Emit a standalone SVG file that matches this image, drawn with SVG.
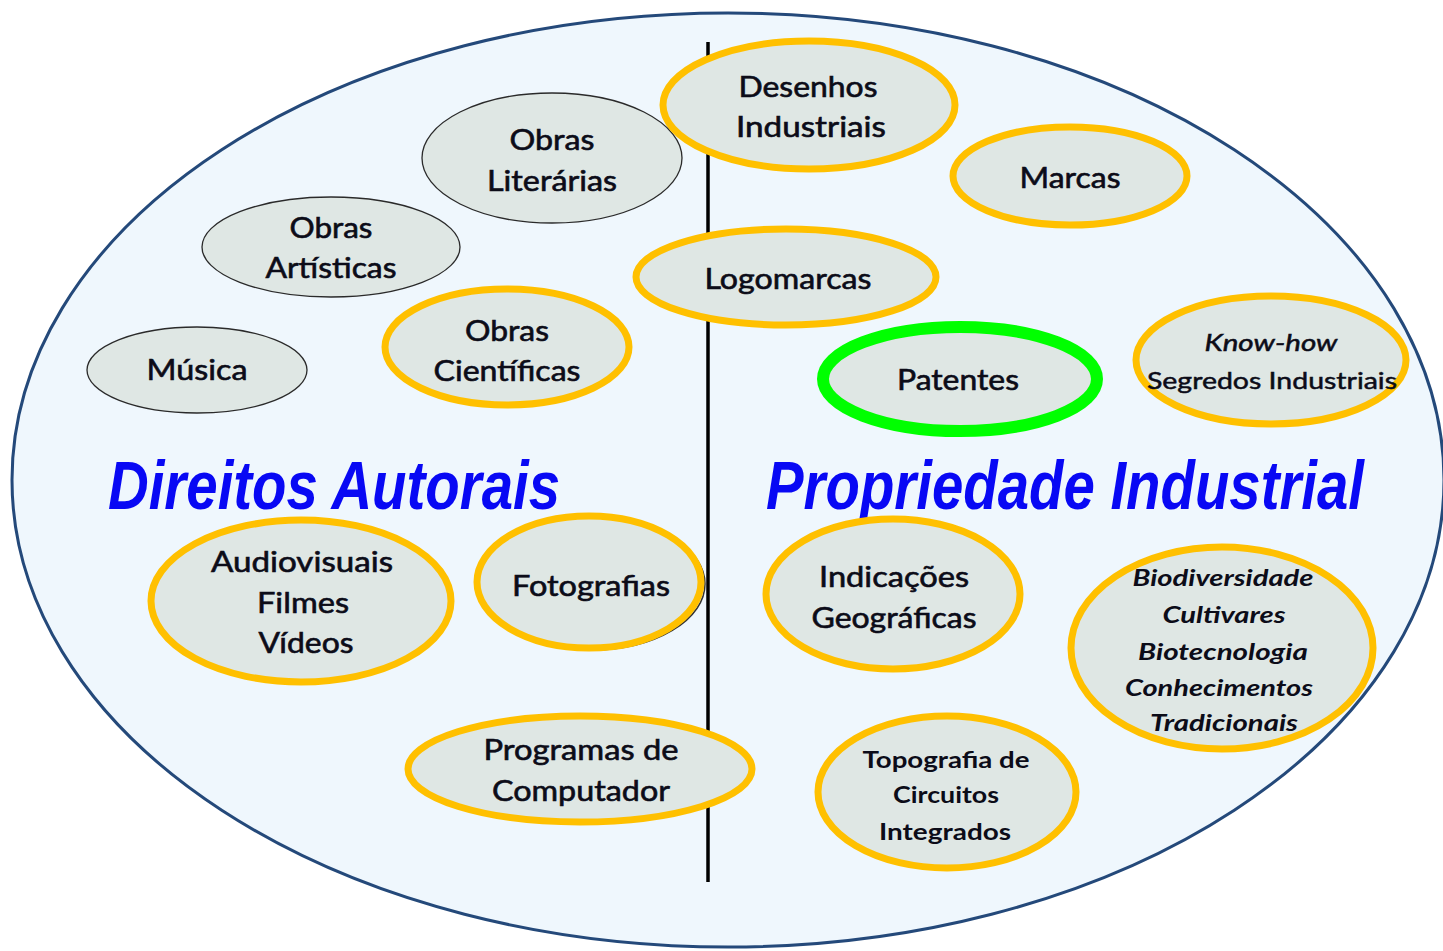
<svg xmlns="http://www.w3.org/2000/svg" width="1443" height="951" viewBox="0 0 1443 951">
<style>
.bg{fill:#EFF7FD;stroke:#24497A;stroke-width:3}
.n{fill:#DFE7E4}
.g{stroke:#2a2a2a;stroke-width:1.3}
.o{stroke:#FFC000;stroke-width:7}
.p{stroke:#00FF00;stroke-width:12}
.sh{fill:#DFE7E4;stroke:#333;stroke-width:1.5}
text{font-family:Lato,"Open Sans","Liberation Sans",sans-serif;fill:#0c0c18;text-anchor:middle}
.t{font-size:28px;stroke:#0c0c18;stroke-width:0.6}
.s{font-size:24px;stroke:#0c0c18;stroke-width:0.5}
.bi{font-size:23px;font-weight:bold;font-style:italic}
.b{font-size:22px;font-weight:bold}
.h{font-family:"Liberation Sans",Arial,sans-serif;font-size:68px;font-weight:bold;font-style:italic;fill:#0808F4;text-anchor:start}
</style>
<ellipse class="bg" cx="728" cy="480" rx="716" ry="467"/>
<g id="connectors">
<line x1="708" y1="42" x2="708" y2="882" stroke="#000" stroke-width="3.5"/>
</g>
<g id="obras-literarias">
<ellipse class="n g" cx="552" cy="158" rx="130" ry="65"/>
<text class="t" x="552" y="150" textLength="85" lengthAdjust="spacingAndGlyphs">Obras</text>
<text class="t" x="552" y="191" textLength="130" lengthAdjust="spacingAndGlyphs">Literárias</text>
</g>
<g id="obras-artisticas">
<ellipse class="n g" cx="331" cy="247" rx="129" ry="50"/>
<text class="t" x="331" y="238" textLength="83" lengthAdjust="spacingAndGlyphs">Obras</text>
<text class="t" x="331" y="278" textLength="131" lengthAdjust="spacingAndGlyphs">Artísticas</text>
</g>
<g id="musica">
<ellipse class="n g" cx="197" cy="370" rx="110" ry="43"/>
<text class="t" x="197" y="380" textLength="101" lengthAdjust="spacingAndGlyphs">Música</text>
</g>
<g id="obras-cientificas">
<ellipse class="n o" cx="507" cy="347" rx="122" ry="58"/>
<text class="t" x="507" y="341" textLength="84" lengthAdjust="spacingAndGlyphs">Obras</text>
<text class="t" x="507" y="381" textLength="147" lengthAdjust="spacingAndGlyphs">Científicas</text>
</g>
<g id="desenhos-industriais">
<ellipse class="n o" cx="809" cy="105" rx="146" ry="64"/>
<text class="t" x="808" y="97" textLength="139" lengthAdjust="spacingAndGlyphs">Desenhos</text>
<text class="t" x="811" y="137" textLength="150" lengthAdjust="spacingAndGlyphs">Industriais</text>
</g>
<g id="marcas">
<ellipse class="n o" cx="1070" cy="176" rx="117" ry="49"/>
<text class="t" x="1070" y="188" textLength="101" lengthAdjust="spacingAndGlyphs">Marcas</text>
</g>
<g id="logomarcas">
<ellipse class="n o" cx="786" cy="277" rx="150" ry="48"/>
<text class="t" x="788" y="289" textLength="167" lengthAdjust="spacingAndGlyphs">Logomarcas</text>
</g>
<g id="patentes">
<ellipse class="n p" cx="960" cy="379" rx="137" ry="52"/>
<text class="t" x="958" y="390" textLength="122" lengthAdjust="spacingAndGlyphs">Patentes</text>
</g>
<g id="know-how">
<ellipse class="n o" cx="1271" cy="360" rx="135" ry="64"/>
<text class="s" x="1271" y="351" font-style="italic" textLength="133" lengthAdjust="spacingAndGlyphs">Know-how</text>
<text class="s" x="1272" y="389" textLength="250" lengthAdjust="spacingAndGlyphs">Segredos Industriais</text>
</g>
<g id="titulo-direitos">
<text class="h" x="108" y="509" textLength="452" lengthAdjust="spacingAndGlyphs">Direitos Autorais</text>
</g>
<g id="titulo-propriedade">
<text class="h" x="766" y="509" textLength="598" lengthAdjust="spacingAndGlyphs">Propriedade Industrial</text>
</g>
<g id="audiovisuais">
<ellipse class="n o" cx="301" cy="601" rx="150" ry="81"/>
<text class="t" x="302" y="572" textLength="182" lengthAdjust="spacingAndGlyphs">Audiovisuais</text>
<text class="t" x="303" y="613" textLength="92" lengthAdjust="spacingAndGlyphs">Filmes</text>
<text class="t" x="306" y="653" textLength="95" lengthAdjust="spacingAndGlyphs">Vídeos</text>
</g>
<g id="fotografias">
<ellipse class="sh" cx="592" cy="584" rx="113" ry="66"/>
<ellipse class="n o" cx="589" cy="582" rx="112" ry="66"/>
<text class="t" x="591" y="596" textLength="158" lengthAdjust="spacingAndGlyphs">Fotografias</text>
</g>
<g id="programas">
<ellipse class="n o" cx="580" cy="769" rx="172" ry="53"/>
<text class="t" x="581" y="760" textLength="195" lengthAdjust="spacingAndGlyphs">Programas de</text>
<text class="t" x="581" y="801" textLength="178" lengthAdjust="spacingAndGlyphs">Computador</text>
</g>
<g id="indicacoes">
<ellipse class="n o" cx="893" cy="594" rx="127" ry="75"/>
<text class="t" x="894" y="587" textLength="150" lengthAdjust="spacingAndGlyphs">Indicações</text>
<text class="t" x="894" y="628" textLength="165" lengthAdjust="spacingAndGlyphs">Geográficas</text>
</g>
<g id="biodiversidade">
<ellipse class="n o" cx="1222" cy="648" rx="151" ry="101"/>
<text class="bi" x="1223" y="586" textLength="181" lengthAdjust="spacingAndGlyphs">Biodiversidade</text>
<text class="bi" x="1224" y="623" textLength="123" lengthAdjust="spacingAndGlyphs">Cultivares</text>
<text class="bi" x="1223" y="660" textLength="170" lengthAdjust="spacingAndGlyphs">Biotecnologia</text>
<text class="bi" x="1219" y="696" textLength="188" lengthAdjust="spacingAndGlyphs">Conhecimentos</text>
<text class="bi" x="1224" y="731" textLength="148" lengthAdjust="spacingAndGlyphs">Tradicionais</text>
</g>
<g id="topografia">
<ellipse class="sh" cx="949" cy="792" rx="129" ry="76"/>
<ellipse class="n o" cx="947" cy="792" rx="129" ry="76"/>
<text class="b" x="946" y="768" textLength="167" lengthAdjust="spacingAndGlyphs">Topografia de</text>
<text class="b" x="946" y="803" textLength="106" lengthAdjust="spacingAndGlyphs">Circuitos</text>
<text class="b" x="945" y="840" textLength="132" lengthAdjust="spacingAndGlyphs">Integrados</text>
</g>
</svg>
